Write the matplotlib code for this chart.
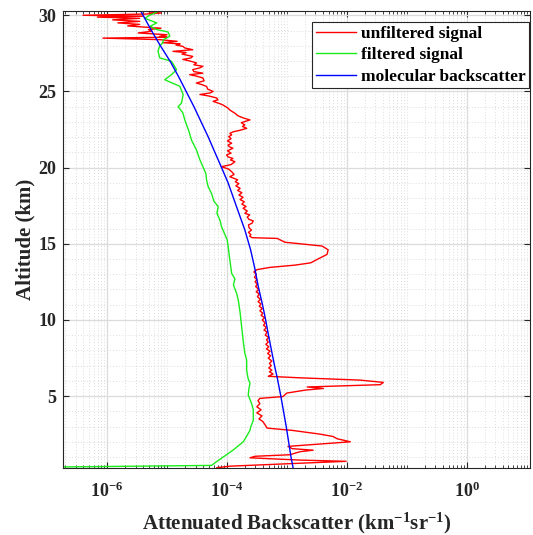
import numpy as np
import matplotlib
matplotlib.use("Agg")
import matplotlib.pyplot as plt
from matplotlib.ticker import FixedLocator, NullFormatter, FixedFormatter

plt.rcParams['font.family'] = ['Liberation Serif', 'DejaVu Serif']
plt.rcParams['font.weight'] = 'bold'
plt.rcParams['mathtext.fontset'] = 'custom'
plt.rcParams['mathtext.rm'] = 'Liberation Serif:bold'
plt.rcParams['mathtext.it'] = 'Liberation Serif:bold'
plt.rcParams['mathtext.bf'] = 'Liberation Serif:bold'

# ---------------- data (log10 of backscatter, km^-1 sr^-1) ----------------
mol_alt = [0.3, 1.0, 2.0, 3.0, 4.0, 5.0, 6.2, 7.0, 8.0, 9.0, 10.0, 11.0, 12.2, 13.3,
           14.6, 15.9, 17.0, 18.0, 19.0, 20.0, 21.0, 22.0, 23.0, 24.0, 25.0, 26.0,
           27.0, 28.0, 29.0, 30.3]
mol_log = [-2.896, -2.93, -2.97, -3.01, -3.055, -3.10, -3.16, -3.205, -3.256, -3.306,
           -3.353, -3.406, -3.477, -3.53, -3.604, -3.70, -3.80, -3.89, -3.98, -4.089,
           -4.20, -4.31, -4.43, -4.55, -4.68, -4.81, -4.95, -5.11, -5.26, -5.44]

filt_alt = [0.30, 0.45, 0.7, 1.0, 1.46, 2.0, 2.4, 2.75, 3.0, 3.4, 4.1, 4.5, 5.07, 5.5,
            5.83, 6.2, 6.7, 7.37, 7.8, 8.5, 9.55, 10.5, 11.3, 11.75, 12.3, 12.7, 13.05,
            13.9, 14.8, 15.25, 16.12, 16.56, 17.0, 17.43, 17.8, 18.3, 18.75, 19.2, 19.6,
            20.06, 20.5, 21.15, 21.8, 22.4, 23.1, 23.6, 24.0, 24.24, 24.8, 25.34, 25.62,
            25.77, 26.1, 26.43, 26.98, 27.2, 27.64, 28.0, 28.2, 28.4, 28.62, 28.9, 29.06,
            29.28, 29.5, 29.8, 30.0, 30.3]
filt_log = [-8.0, -4.256, -4.172, -4.062, -3.895, -3.727, -3.666, -3.615, -3.60, -3.56,
            -3.56, -3.587, -3.644, -3.632, -3.615, -3.649, -3.67, -3.67, -3.70, -3.724,
            -3.754, -3.78, -3.81, -3.838, -3.891, -3.866, -3.92, -3.95, -3.978, -3.995,
            -4.089, -4.117, -4.167, -4.145, -4.217, -4.256, -4.313, -4.34, -4.35, -4.40,
            -4.45, -4.507, -4.59, -4.635, -4.70, -4.736, -4.814, -4.757, -4.73, -4.786,
            -4.953, -5.037, -4.925, -4.84, -4.925, -5.12, -5.15, -5.12, -5.07, -5.06,
            -4.953, -4.98, -5.17, -5.28, -5.17, -5.37, -5.29, -5.12]

raw_alt = [0.30, 0.40, 0.72, 0.80, 0.95, 1.05, 1.15, 1.35, 1.45, 1.55, 1.70, 2.0, 2.2,
           2.35, 2.5, 2.75, 2.9, 3.1, 3.33, 3.5, 3.7, 3.9, 4.1, 4.3, 4.5, 4.7, 4.85,
           4.97, 5.2, 5.4, 5.5, 5.6, 5.75, 5.9, 6.05, 6.2,
           6.3, 6.45, 6.6, 6.7, 6.85, 7.0, 7.15, 7.3, 7.5, 7.65, 7.8, 7.95, 8.1, 8.24,
           8.4, 8.55, 8.7, 8.85, 9.0, 9.2, 9.34, 9.5, 9.65, 9.8, 10.0, 10.15, 10.3,
           10.44, 10.6, 10.75, 10.9, 11.05, 11.2, 11.35, 11.53, 11.7, 11.85, 12.0,
           12.2, 12.35, 12.5, 12.65, 12.8, 13.0, 13.15, 13.3,
           13.45, 13.6, 13.75, 14.0, 14.3, 14.6, 14.85, 15.0, 15.1, 15.35,
           15.4, 15.5, 15.6, 15.75, 15.9, 16.05, 16.24, 16.35, 16.5, 16.6, 16.75, 16.9,
           17.0, 17.15, 17.33, 17.45, 17.6, 17.76, 17.9, 18.05, 18.2, 18.35, 18.5,
           18.64, 18.8, 18.95, 19.07, 19.2, 19.4, 19.55, 19.73, 19.9, 20.06, 20.2,
           20.39, 20.5, 20.6, 20.7, 20.83, 20.95, 21.1, 21.27, 21.37, 21.48, 21.6,
           21.75, 21.9, 22.03, 22.15, 22.25, 22.35, 22.45, 22.58, 22.7, 22.8, 22.95,
           23.13, 23.25, 23.4, 23.55, 23.78, 23.9, 24.1, 24.2, 24.35, 24.45, 24.57,
           24.7, 24.8, 24.9, 25.0, 25.15, 25.33, 25.45, 25.55, 25.7, 25.88, 26.0,
           26.1, 26.2, 26.3, 26.43, 26.55, 26.65, 26.75, 26.87, 27.0, 27.1, 27.2,
           27.3, 27.45, 27.55, 27.63, 27.74, 27.85, 27.96, 28.05, 28.12, 28.2, 28.29,
           28.4, 28.5, 28.56, 28.62, 28.72, 28.84, 28.95, 29.06, 29.15, 29.3, 29.4,
           29.5, 29.6, 29.7, 29.8, 29.88, 29.94, 30.0, 30.08, 30.15, 30.22, 30.3]
raw_log = [-4.167, -3.95, -2.01, -2.78, -3.615, -3.53, -2.95, -2.78, -2.56, -2.91,
           -2.98, -1.94, -2.16, -2.23, -2.44, -2.91, -3.33, -3.36, -3.40, -3.465,
           -3.415, -3.50, -3.43, -3.50, -3.45, -3.48, -3.45,
           -3.064, -3.0, -2.68, -2.39, -2.66, -1.44, -1.39, -1.78, -2.78,
           -3.31, -3.23, -3.29, -3.25, -3.30, -3.26, -3.29, -3.25, -3.31, -3.27, -3.32,
           -3.28, -3.34, -3.30, -3.35, -3.31, -3.34, -3.30, -3.36, -3.33, -3.38, -3.34,
           -3.39, -3.36, -3.41, -3.37, -3.43, -3.40, -3.45, -3.41, -3.46, -3.43, -3.48,
           -3.44, -3.49, -3.46, -3.51, -3.47, -3.52, -3.49, -3.53, -3.50, -3.54, -3.51,
           -3.55, -3.50,
           -3.28, -2.86, -2.60, -2.48, -2.33, -2.31, -2.41, -2.78, -3.03, -3.16,
           -3.58, -3.62, -3.60, -3.64, -3.59, -3.63, -3.64, -3.58, -3.56, -3.63, -3.66,
           -3.62, -3.70, -3.66, -3.73, -3.68, -3.75, -3.71, -3.78, -3.73, -3.80, -3.75,
           -3.82, -3.78, -3.85, -3.80, -3.86, -3.82, -3.95, -3.88, -3.92, -3.97, -4.09,
           -3.93, -3.866, -3.94, -3.90, -3.98, -4.005, -3.93, -3.99, -3.90, -3.96,
           -3.98, -3.92, -3.99, -3.93, -3.97, -3.92, -3.95, -3.895, -3.78, -3.67,
           -3.74, -3.70, -3.76, -3.615, -3.72, -3.815, -3.86, -3.95, -3.98, -4.06,
           -4.12, -4.23, -4.15, -4.17, -4.30, -4.45, -4.28, -4.23, -4.32, -4.34, -4.42,
           -4.51, -4.38, -4.40, -4.50, -4.62, -4.40, -4.55, -4.57, -4.45, -4.40, -4.55,
           -4.507, -4.62, -4.736, -4.60, -4.57, -4.75, -4.68, -4.90, -4.57, -4.70,
           -4.736, -4.85, -4.78, -5.07, -4.83, -5.12, -6.07, -5.0, -5.12, -5.0, -5.48,
           -5.25, -5.31, -5.1, -5.655, -5.455, -5.82, -5.455, -5.906, -5.455, -6.16,
           -5.40, -6.40, -5.35, -5.10, -5.30, -5.15]

labels = ['unfiltered signal', 'filtered signal', 'molecular backscatter']
xtick_exps = [-6, -4, -2, 0]
ytick_vals = [5, 10, 15, 20, 25, 30]

# ---------------- figure ----------------
fig = plt.figure(figsize=(5.33, 5.35), dpi=100)
ax = fig.add_axes([63/533, 1 - 467.7/535, 467/533, 457/535])

ax.plot(10.0**np.array(raw_log), raw_alt, color=(1, 0, 0), lw=1.0, label=labels[0])
ax.plot(10.0**np.array(filt_log), filt_alt, color=(0.1, 0.93, 0.1), lw=1.0, label=labels[1])
ax.plot(10.0**np.array(mol_log), mol_alt, color=(0, 0, 1), lw=1.0, label=labels[2])

ax.set_xscale('log')
ax.set_xlim(10**-6.735, 10**1.058)
ax.set_ylim(0.3, 30.3)

# ticks
ax.xaxis.set_major_locator(FixedLocator([10.0**e for e in xtick_exps]))
ax.xaxis.set_major_formatter(FixedFormatter([r'$10^{%d}$' % e for e in xtick_exps]))
minors = []
for d in range(-7, 2):
    for m in range(1, 10):
        v = m * 10.0**d
        if m == 1 and d in xtick_exps:
            continue
        minors.append(v)
ax.xaxis.set_minor_locator(FixedLocator(minors))
ax.xaxis.set_minor_formatter(NullFormatter())
ax.yaxis.set_major_locator(FixedLocator(ytick_vals))
ax.yaxis.set_minor_locator(FixedLocator(np.arange(1, 31, 1)))

ax.tick_params(which='both', direction='in', top=True, right=True, colors='#262626',
               labelcolor='#262626')
ax.tick_params(axis='x', which='major', length=4.5, width=0.8, labelsize=13, pad=10)
ax.tick_params(axis='x', which='minor', length=2.5, width=0.6)
ax.tick_params(axis='y', which='major', length=4.5, width=0.8, labelsize=13, pad=5)
ax.tick_params(axis='y', which='minor', length=0)

ax.grid(which='major', color=(0.86, 0.86, 0.86), lw=0.9, ls='-')
ax.grid(which='minor', color=(0.82, 0.82, 0.82), lw=0.6, ls=(0, (1, 2.5)))
ax.set_axisbelow(True)

for s in ax.spines.values():
    s.set_color('#262626')
    s.set_linewidth(0.8)

ax.set_xlabel(r'Attenuated Backscatter (km$^{-1}$sr$^{-1}$)', fontsize=15,
              fontweight='bold', color='#262626', labelpad=7)
ax.set_ylabel('Altitude (km)', fontsize=15, fontweight='bold', color='#262626',
              labelpad=2)

leg = ax.legend(loc='upper right', bbox_to_anchor=(1 - 1.0/467, 1 - 11.6/457),
                borderaxespad=0, handlelength=2.3, handletextpad=0.3,
                labelspacing=0.3, borderpad=0.2, fancybox=False, framealpha=1,
                edgecolor='#262626', prop={'weight': 'bold', 'size': 12.5})
leg.get_frame().set_linewidth(0.8)

fig.savefig('out.png', dpi=100)
